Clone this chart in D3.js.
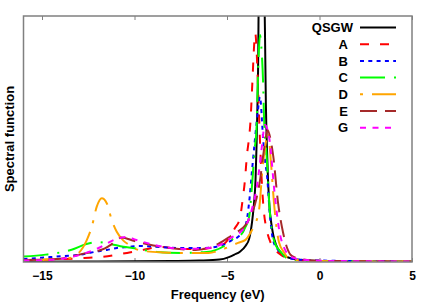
<!DOCTYPE html>
<html><head><meta charset="utf-8">
<script src="https://cdn.jsdelivr.net/npm/d3@7"></script>
<style>body{margin:0;background:#fff}text{font-family:"Liberation Sans",Arial,sans-serif;font-weight:bold;fill:#000}</style>
</head><body><svg id="c" width="436" height="305"></svg>
<script>
// ---- data (frequency in eV, spectral function in arbitrary units) ----
const xTicks = [-15, -10, -5, 0, 5];
const seriesNames = ["QSGW", "A", "B", "C", "D", "E", "G"];
const qsgw = [[-16,0.01],[-13,0.02],[-10,0.03],[-8,0.04],[-6.5,0.06],[-5.4,0.1],[-4.9,0.2],[-4.6,0.3],[-4.3,0.42],[-4.0,0.65],[-3.8,0.95],[-3.65,1.6],[-3.55,2.3],[-3.46,3.3],[-3.4,4.8],[-3.35,6.5],[-3.31,8.5],[-3.29,10.5],[-3.2,16],[-3.13,20],[-3.05,16],[-2.98,11],[-2.95,9.5],[-2.9,6.5],[-2.84,4.6],[-2.78,3.3],[-2.7,2.2],[-2.6,1.55],[-2.5,1.1],[-2.35,0.7],[-2.1,0.38],[-1.8,0.22],[-1.5,0.14],[-1.0,0.08],[0,0.04],[2,0.02],[5,0.01]];
const serA = [[-16,0.08],[-14.5,0.1],[-13,0.15],[-11.9,0.2],[-10.4,0.37],[-9.5,0.5],[-8.6,0.61],[-7.5,0.53],[-6.5,0.53],[-5.65,0.61],[-5.1,0.77],[-4.84,1.05],[-4.57,1.38],[-4.3,1.79],[-4.16,2.5],[-4.03,3.33],[-3.92,4.35],[-3.8,5.1],[-3.72,5.85],[-3.66,6.8],[-3.61,7.6],[-3.56,8.45],[-3.47,9.3],[-3.4,8.6],[-3.3,6.6],[-3.2,4.6],[-3.1,3.0],[-3.0,2.0],[-2.85,1.3],[-2.65,0.8],[-2.4,0.5],[-2.1,0.3],[-1.8,0.18],[-1.4,0.1],[-0.5,0.05],[1,0.03],[5,0.02]];
const serB = [[-16,0.12],[-15.27,0.16],[-14.57,0.2],[-13.92,0.24],[-13.11,0.28],[-11.86,0.45],[-11.49,0.49],[-10.95,0.57],[-10.35,0.61],[-9.7,0.65],[-8.62,0.61],[-7.54,0.57],[-6.19,0.57],[-5.22,0.69],[-4.73,0.89],[-4.41,1.02],[-4.1,1.3],[-3.92,1.75],[-3.78,2.6],[-3.65,3.7],[-3.5,4.9],[-3.35,6.0],[-3.22,6.71],[-3.05,5.04],[-2.95,4.15],[-2.84,3.54],[-2.68,1.91],[-2.51,0.89],[-2.24,0.49],[-1.97,0.28],[-1.32,0.12],[0,0.06],[5,0.02]];
const serC = [[-16,0.22],[-14.8,0.3],[-13.4,0.5],[-12.6,0.73],[-12.0,0.81],[-11.3,0.73],[-10.6,0.62],[-10.1,0.57],[-8.8,0.41],[-7.4,0.37],[-6.1,0.41],[-5.2,0.63],[-4.68,0.94],[-4.3,1.06],[-4.03,1.38],[-3.8,1.85],[-3.7,2.6],[-3.6,3.6],[-3.5,4.6],[-3.4,5.5],[-3.36,6.6],[-3.32,7.7],[-3.27,8.7],[-3.22,9.23],[-3.13,8.6],[-3.04,7.1],[-3.0,5.9],[-2.86,4.35],[-2.68,2.0],[-2.41,0.77],[-2.05,0.37],[-1.78,0.16],[-1.32,0.08],[0,0.03],[5,0.01]];
const serD = [[-16,0.06],[-15.5,0.08],[-14.5,0.11],[-13.6,0.15],[-13.04,0.35],[-12.58,0.89],[-12.31,1.43],[-12.04,2.25],[-11.77,2.59],[-11.5,2.39],[-11.23,1.71],[-10.96,1.23],[-10.6,0.87],[-10.3,0.7],[-10.0,0.55],[-9.5,0.45],[-8.5,0.39],[-7.3,0.37],[-6.0,0.37],[-5.3,0.5],[-4.8,0.65],[-4.4,0.78],[-4.0,0.9],[-3.76,1.15],[-3.55,1.45],[-3.27,2.1],[-3.08,3.8],[-2.95,4.6],[-2.78,5.24],[-2.62,4.0],[-2.46,2.4],[-2.19,0.8],[-1.9,0.37],[-1.7,0.16],[-1.2,0.08],[0,0.04],[5,0.02]];
const serE = [[-16,0.08],[-14.2,0.12],[-12.7,0.35],[-11.6,0.55],[-11.3,0.69],[-10.95,0.89],[-10.7,1.0],[-10.0,0.85],[-9.3,0.72],[-8.5,0.61],[-6.7,0.49],[-5.6,0.69],[-4.95,0.98],[-4.5,1.2],[-4.0,1.5],[-3.7,1.9],[-3.4,2.6],[-3.2,3.4],[-3.05,4.3],[-2.95,4.8],[-2.81,5.37],[-2.65,5.0],[-2.5,4.3],[-2.24,2.4],[-1.97,1.2],[-1.75,0.57],[-1.5,0.25],[-1.0,0.12],[0,0.05],[5,0.02]];
const serG = [[-16,0.06],[-14.8,0.08],[-13.2,0.24],[-12.0,0.55],[-11.0,0.93],[-10.4,1.02],[-10.0,0.92],[-8.9,0.69],[-7.3,0.53],[-6.0,0.57],[-5.4,0.69],[-4.7,1.02],[-4.3,1.2],[-3.9,1.6],[-3.6,2.3],[-3.4,3.0],[-3.22,4.0],[-3.13,4.6],[-2.95,5.57],[-2.73,5.1],[-2.4,2.6],[-2.2,1.4],[-1.86,0.49],[-1.5,0.2],[-1.0,0.1],[0,0.05],[5,0.02]];
const seriesData = [qsgw, serA, serB, serC, serD, serE, serG];

// ---- styles ----
const colors = ["#000000", "#ff0000", "#0000ff", "#00ff00", "#ffa500", "#a52a2a", "#ff00ff"];
const dashes = ["none", "9,11", "4,4.3", "25,9,2,9", "3,9,24,9", "17,8", "6,6.5"];

const svg = d3.select("#c");
const L = 23.5, R = 412, T = 16, B = 262;
const x = d3.scaleLinear().domain([-16, 5]).range([L, R]);
const y = d3.scaleLinear().domain([0, 10]).range([B, T]);

svg.append("defs").append("clipPath").attr("id", "clip")
  .append("rect").attr("x", L).attr("y", T).attr("width", R - L).attr("height", B - T);

// axes
const ax = svg.append("g").attr("transform", `translate(0,${B})`)
  .call(d3.axisBottom(x).tickValues(xTicks).tickSize(-4).tickPadding(9.5).tickFormat(d3.format("d")));
ax.select(".domain").remove();
ax.selectAll("line").attr("stroke", "#808080");
ax.selectAll("text").style("font-size", "12px").attr("fill", "#000");
const axT = svg.append("g").attr("transform", `translate(0,${T})`)
  .call(d3.axisTop(x).tickValues(xTicks).tickSize(-4).tickFormat(""));
axT.select(".domain").remove();
axT.selectAll("line").attr("stroke", "#808080");

// curves
const line = d3.line().x(d => x(d[0])).y(d => y(d[1])).curve(d3.curveMonotoneX);
const g = svg.append("g").attr("clip-path", "url(#clip)");
seriesData.forEach((s, i) => {
  g.append("path").attr("d", line(s)).attr("fill", "none")
    .attr("stroke", colors[i]).attr("stroke-width", 2)
    .attr("stroke-dasharray", dashes[i]).attr("stroke-linejoin", "round");
});

// frame
svg.append("rect").attr("x", L).attr("y", T).attr("width", R - L).attr("height", B - T)
  .attr("fill", "none").attr("stroke", "#808080").attr("stroke-width", 1.5);

// legend
const leg = svg.append("g");
seriesNames.forEach((n, i) => {
  const yy = 27.5 + i * 16.7;
  leg.append("text").attr("x", i === 0 ? 353 : 348).attr("y", yy + 4.6)
    .attr("text-anchor", "end").style("font-size", "13px").text(n);
  leg.append("line").attr("x1", 360).attr("x2", 396).attr("y1", yy).attr("y2", yy)
    .attr("stroke", colors[i]).attr("stroke-width", 2).attr("stroke-dasharray", dashes[i]);
});

// axis labels
svg.append("text").attr("x", (L + R) / 2).attr("y", 299).attr("text-anchor", "middle")
  .style("font-size", "13px").text("Frequency (eV)");
svg.append("text").attr("transform", `translate(14,${(T + B) / 2}) rotate(-90)`)
  .attr("text-anchor", "middle").style("font-size", "13px").text("Spectral function");
</script></body></html>
